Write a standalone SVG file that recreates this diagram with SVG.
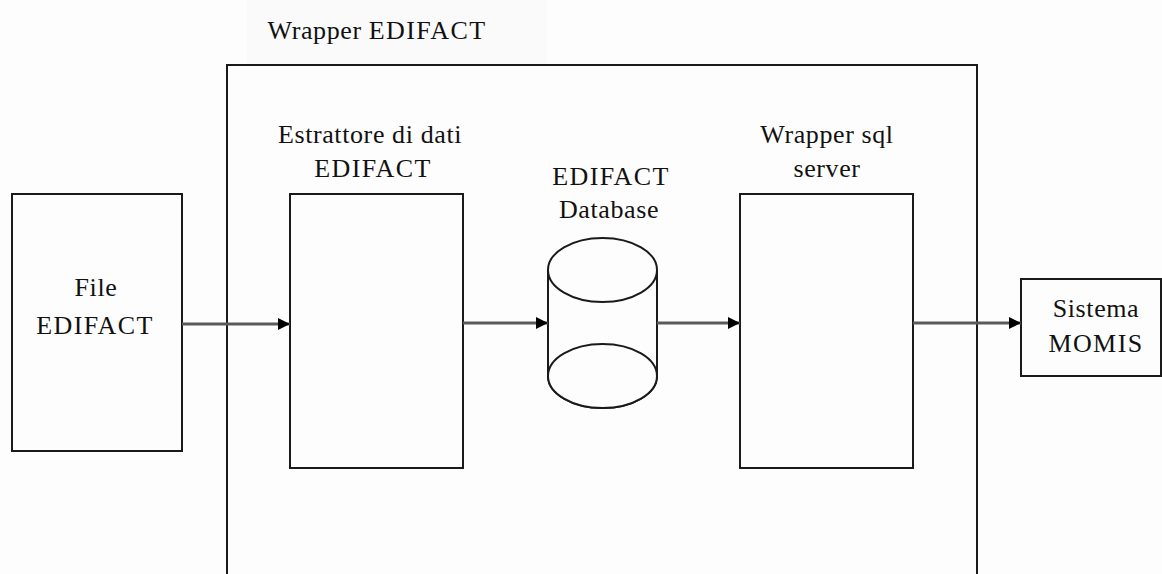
<svg xmlns="http://www.w3.org/2000/svg" width="1162" height="574" viewBox="0 0 1162 574">
  <style>
    .box { fill: #fdfdfd; stroke: #1a1a1a; stroke-width: 2; }
    .edge { stroke: #5a5a5a; stroke-width: 3; fill: none; }
    .label { font-family: "Liberation Serif", "Times New Roman", serif; font-size: 26px; fill: #111; text-anchor: middle; letter-spacing: 0.6px; }
    .caps { letter-spacing: 1.4px; }
  </style>
  <defs>
    <marker id="arrow" markerWidth="14" markerHeight="14" refX="12" refY="6" orient="auto" markerUnits="userSpaceOnUse">
      <path d="M0,0 L12,6 L0,12 Z" fill="#000"/>
    </marker>
  </defs>

  <rect width="1162" height="574" fill="#fdfdfd"/>
  <rect x="247" y="0" width="300" height="70" fill="#fafafa"/>

  <!-- outer wrapper container -->
  <g id="wrapper-edifact">
    <rect class="box" x="227" y="65" width="750" height="520"/>
    <text class="label" x="377" y="39">Wrapper <tspan class="caps">EDIFACT</tspan></text>
  </g>

  <g id="file-edifact">
    <rect class="box" x="12" y="194" width="170" height="257"/>
    <text class="label" x="96" y="296">File</text>
    <text class="label caps" x="95" y="334">EDIFACT</text>
  </g>

  <g id="estrattore">
    <rect class="box" x="290" y="194" width="173" height="274"/>
    <text class="label" x="370" y="143">Estrattore di dati</text>
    <text class="label caps" x="373" y="177">EDIFACT</text>
  </g>

  <g id="edifact-database">
    <path class="box" d="M548,270 L548,376 A54.5,32 0 0 0 657,376 L657,270"/>
    <ellipse class="box" cx="602.5" cy="376" rx="54.5" ry="32"/>
    <ellipse class="box" cx="602.5" cy="270" rx="54.5" ry="32"/>
    <text class="label caps" x="611" y="185">EDIFACT</text>
    <text class="label" x="609" y="218">Database</text>
  </g>

  <g id="wrapper-sql-server">
    <rect class="box" x="740" y="194" width="173" height="274"/>
    <text class="label" x="827" y="143">Wrapper sql</text>
    <text class="label" x="827" y="177">server</text>
  </g>

  <g id="sistema-momis">
    <rect class="box" x="1021" y="279" width="140" height="97"/>
    <text class="label" x="1096" y="317">Sistema</text>
    <text class="label caps" x="1096" y="352">MOMIS</text>
  </g>

  <g id="connectors">
    <line class="edge" x1="182" y1="324" x2="290" y2="324" marker-end="url(#arrow)"/>
    <line class="edge" x1="463" y1="323" x2="548" y2="323" marker-end="url(#arrow)"/>
    <line class="edge" x1="657" y1="323" x2="740" y2="323" marker-end="url(#arrow)"/>
    <line class="edge" x1="913" y1="323" x2="1021" y2="323" marker-end="url(#arrow)"/>
  </g>
</svg>
